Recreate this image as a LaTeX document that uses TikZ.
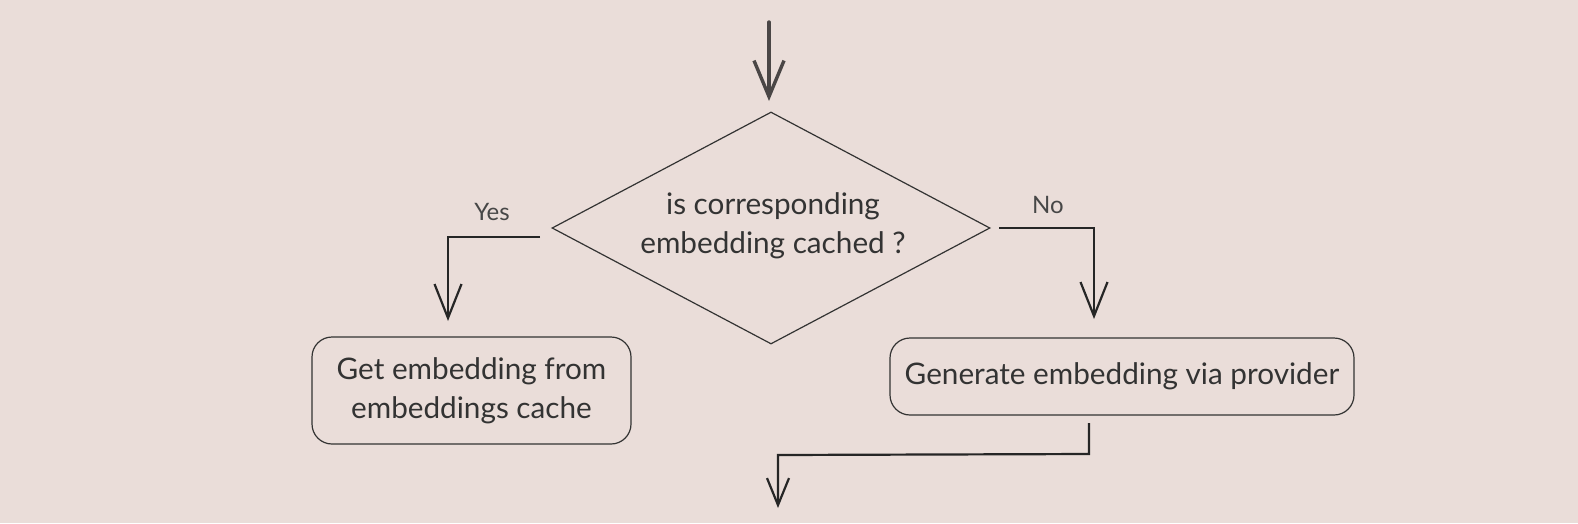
\documentclass[tikz,border=0pt]{standalone}
\usepackage{fontspec}
\setmainfont{Lato}
\usetikzlibrary{shapes.geometric,arrows.meta,calc}
\definecolor{bg}{HTML}{EADDD9}
\definecolor{ink}{HTML}{333333}
\definecolor{topink}{HTML}{4A4646}
\tikzset{
  boxnode/.style={draw=ink, line width=1.2pt, rounded corners=20pt, inner sep=0pt, text=ink, font=\fontsize{29.7}{39}\selectfont, align=center},
  txt/.style={text=ink, font=\fontsize{29.7}{39}\selectfont, align=center, inner sep=0pt},
  lbl/.style={text=ink!90, font=\fontsize{24}{28}\selectfont, inner sep=0pt},
  flow/.style={draw=black!85, line width=2.2pt},
  bigtip/.style={-{Straight Barb[length=34pt,width=27pt,line width=2.2pt]}},
  smalltip/.style={-{Straight Barb[length=27pt,width=22pt,line width=2.2pt]}},
}
\begin{document}
\begin{tikzpicture}[x=1pt,y=-1pt]
\fill[bg] (0,0) rectangle (1578,523);
\useasboundingbox (0,0) rectangle (1578,523);
% diamond
\node[diamond, draw=ink, line width=1.2pt, minimum width=438pt, minimum height=232pt, inner sep=0pt, shape aspect=1.888] (d) at (771,228) {};
\node[txt] (dt) at (773,226) {is corresponding\\embedding cached ?};
% top arrow
\coordinate (top) at (769,22);
\coordinate (topend) at (769,101);
\draw[draw=topink, line width=3.4pt, line cap=round, -{Straight Barb[length=36pt,width=30pt,line width=3.4pt]}] (top) -- (topend);
% boxes
\node[boxnode, minimum width=319pt, minimum height=107pt] (lb) at (471.5,390.5) {Get embedding from\\embeddings cache};
\node[boxnode, minimum width=464pt, minimum height=77pt] (rb) at (1122,376.5) {Generate embedding via provider};
% yes branch
\coordinate (ys) at (540,237);
\coordinate (yc) at (448,237);
\coordinate (ye) at (448,321);
\draw[flow, bigtip] (ys) -- (yc) -- (ye);
\node[lbl] (yes) at (492,212) {Yes};
% no branch
\coordinate (ns) at (999,228);
\coordinate (nc) at (1094,228);
\coordinate (ne) at (1094,319);
\draw[flow, bigtip] (ns) -- (nc) -- (ne);
\node[lbl] (no) at (1048,205) {No};
% bottom
\coordinate (bs) at (1089,423);
\coordinate (bc1) at (1089,454);
\coordinate (bc2) at (778,455);
\coordinate (be) at (778,508);
\draw[flow, smalltip] (bs) -- (bc1) -- (bc2) -- (be);
\end{tikzpicture}
\end{document}
